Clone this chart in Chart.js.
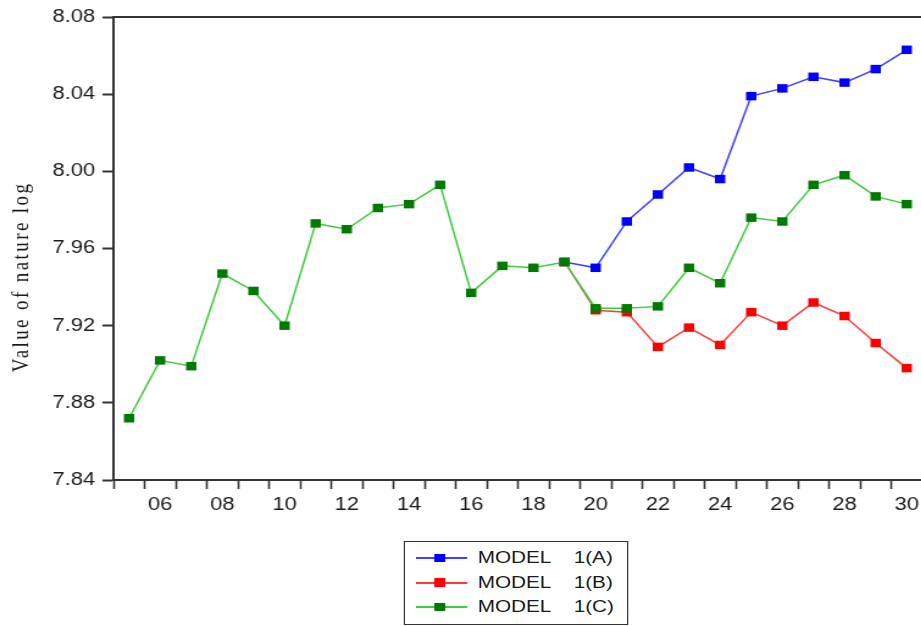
<!DOCTYPE html>
<html>
<head>
<meta charset="utf-8">
<script src="https://cdn.jsdelivr.net/npm/chart.js@4.4.0/dist/chart.umd.min.js"></script>
<style>
  html, body { margin: 0; padding: 0; background: #fff; overflow: hidden; }
  /* the reference picture is stretched sideways, so the whole stage is too */
  #stage { position: absolute; left: 0; top: 0; width: 765px; height: 626px; transform: scaleX(1.22); transform-origin: 0 0; }
  #chart { position: absolute; left: 0; top: 0; }
  #legend { position: absolute; left: 331px; top: 541px; width: 182px; height: 82px; border: 1.5px solid #333; background: #fff;
            font-family: 'Liberation Sans', Arial, sans-serif; font-size: 17px; color: #1a1a1a; }
  .row { position: absolute; left: 0; width: 100%; height: 20px; }
  .row .ln { position: absolute; left: 8.5px; top: 9px; width: 42px; height: 2px; }
  .row .mk { position: absolute; left: 24px; top: 5.75px; width: 8.5px; height: 8.5px; }
  .row .tx { position: absolute; left: 59.5px; top: 0; line-height: 20px; white-space: pre; }
</style>
</head>
<body>
<div id="stage">
  <canvas id="chart" width="762" height="540"></canvas>
  <div id="legend"></div>
</div>
<script>
const years = ['05', '06', '07', '08', '09', '10', '11', '12', '13', '14', '15', '16', '17', '18', '19',
               '20', '21', '22', '23', '24', '25', '26', '27', '28', '29', '30'];
const yTicks = [7.84, 7.88, 7.92, 7.96, 8.00, 8.04, 8.08];
const yTitle = 'Value of nature log';

const modelA = [null, null, null, null, null, null, null, null, null, null, null, null, null, null,
                7.953, 7.950, 7.974, 7.988, 8.002, 7.996, 8.039, 8.043, 8.049, 8.046, 8.053, 8.063];
const modelB = [null, null, null, null, null, null, null, null, null, null, null, null, null, null,
                7.953, 7.928, 7.927, 7.909, 7.919, 7.910, 7.927, 7.920, 7.932, 7.925, 7.911, 7.898];
const modelC = [7.872, 7.902, 7.899, 7.947, 7.938, 7.920, 7.973, 7.970, 7.981, 7.983, 7.993, 7.937,
                7.951, 7.950, 7.953, 7.929, 7.929, 7.930, 7.950, 7.942, 7.976, 7.974, 7.993, 7.998,
                7.987, 7.983];

const seriesNames = ['MODEL    1(A)', 'MODEL    1(B)', 'MODEL    1(C)'];
const lineColors = ['#4040ff', '#ff3a3a', '#3ccc3c'];
const markColors = ['#0000ff', '#ff0000', '#007a00'];

const tickFont = { family: "'Liberation Sans', Arial, sans-serif", size: 18 };
const inkColor = '#1a1a1a';
const axisColor = '#333';

// top frame line + rotated serif y title
const frameAndTitle = {
  id: 'frameAndTitle',
  afterDraw(chart) {
    const { ctx, chartArea } = chart;
    ctx.save();
    ctx.strokeStyle = axisColor;
    ctx.lineWidth = 2;
    ctx.beginPath();
    ctx.moveTo(chartArea.left, chartArea.top);
    ctx.lineTo(chartArea.right, chartArea.top);
    ctx.stroke();

    ctx.translate(18.4, 277);
    ctx.rotate(-Math.PI / 2);
    ctx.font = "19px 'Liberation Serif', 'Times New Roman', serif";
    if ('letterSpacing' in ctx) ctx.letterSpacing = '2.4px';
    ctx.fillStyle = inkColor;
    ctx.textAlign = 'center';
    ctx.textBaseline = 'middle';
    ctx.fillText(yTitle, 0, 0);
    ctx.restore();
  }
};

const allSeries = [modelA, modelB, modelC];
const drawOrder = [2, 1, 0]; // model C sits on top

new Chart(document.getElementById('chart'), {
  type: 'line',
  data: {
    labels: years,
    datasets: allSeries.map((vals, i) => ({
      label: seriesNames[i],
      data: vals,
      order: drawOrder[i],
      borderColor: lineColors[i],
      borderWidth: 1.5,
      backgroundColor: markColors[i],
      pointStyle: 'rect',
      pointRadius: 6,
      pointBorderWidth: 0,
      pointBackgroundColor: markColors[i],
      tension: 0,
      fill: false,
      spanGaps: false
    }))
  },
  options: {
    responsive: false,
    animation: false,
    layout: { padding: { top: 17, right: 0, bottom: 0, left: 0 } },
    plugins: { legend: { display: false }, tooltip: { enabled: false } },
    scales: {
      x: {
        offset: true,
        grid: { offset: true, drawOnChartArea: false, tickLength: 9, tickWidth: 1.6, tickColor: axisColor },
        border: { color: axisColor, width: 2 },
        ticks: {
          autoSkip: false, maxRotation: 0, minRotation: 0, padding: 5,
          color: inkColor, font: tickFont,
          callback: (v, i) => (i % 2 === 1 ? years[i] : '')
        },
        afterFit(scale) {
          scale.height = 60;
          scale.paddingLeft = 0;
          scale.paddingRight = 0;
        }
      },
      y: {
        min: yTicks[0],
        max: yTicks[yTicks.length - 1],
        afterBuildTicks(scale) { scale.ticks = yTicks.map(v => ({ value: v })); },
        grid: { drawOnChartArea: false, tickLength: 9, tickWidth: 2, tickColor: axisColor },
        border: { color: axisColor, width: 2 },
        ticks: { padding: 6, color: inkColor, font: tickFont, callback: v => Number(v).toFixed(2) },
        afterFit(scale) { scale.width = 93; }
      }
    }
  },
  plugins: [frameAndTitle]
});

// legend box under the plot
const legend = document.getElementById('legend');
seriesNames.forEach((name, i) => {
  const row = document.createElement('div');
  row.className = 'row';
  row.style.top = (6 + 24.6 * i) + 'px';
  row.innerHTML = '<div class="ln" style="background:' + lineColors[i] + '"></div>' +
                  '<div class="mk" style="background:' + markColors[i] + '"></div>' +
                  '<span class="tx"></span>';
  row.querySelector('.tx').textContent = name;
  legend.appendChild(row);
});
</script>
</body>
</html>
